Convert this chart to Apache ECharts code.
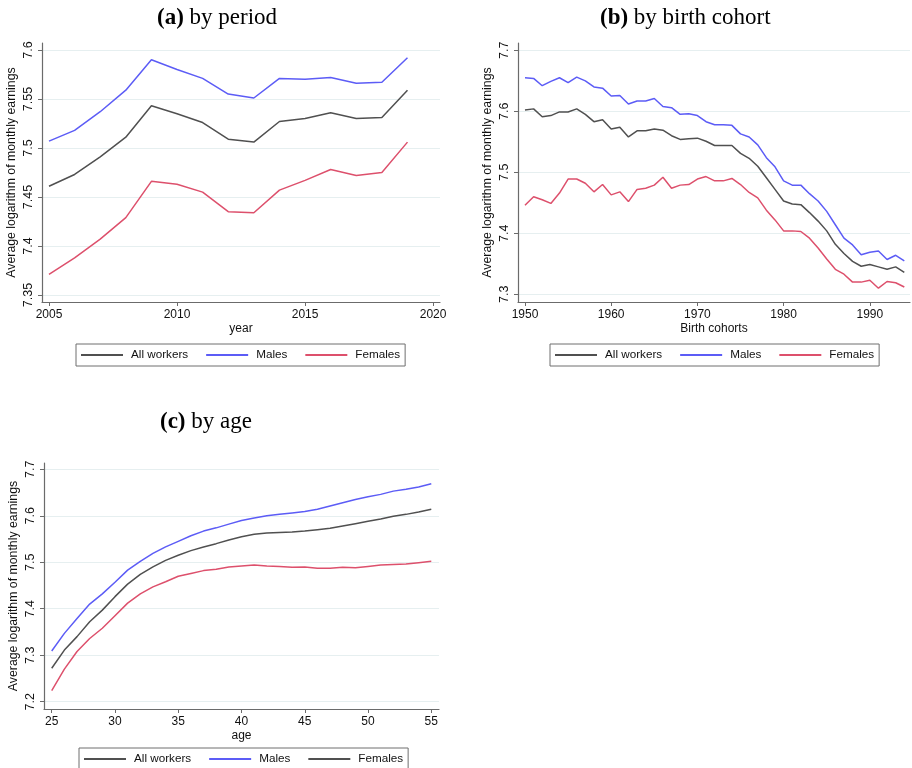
<!DOCTYPE html>
<html>
<head>
<meta charset="utf-8">
<script src="https://cdn.jsdelivr.net/npm/echarts@6.0.0/dist/echarts.min.js"></script>
<style>
    html, body { margin: 0; padding: 0; background: #fff; }
    #earnings { width: 912px; height: 768px; }
</style>
</head>
<body>
<div id="earnings"></div>
<script>
// (a) by period
const periodYears = [2005, 2006, 2007, 2008, 2009, 2010, 2011, 2012, 2013, 2014, 2015, 2016, 2017, 2018, 2019];
const periodAll = [7.461, 7.473, 7.491, 7.511, 7.543, 7.535, 7.526, 7.509, 7.506, 7.527, 7.530, 7.536, 7.530, 7.531, 7.559];
const periodMales = [7.507, 7.518, 7.537, 7.559, 7.590, 7.580, 7.571, 7.555, 7.551, 7.571, 7.570, 7.572, 7.566, 7.567, 7.592];
const periodFemales = [7.371, 7.388, 7.407, 7.429, 7.466, 7.463, 7.455, 7.435, 7.434, 7.457, 7.467, 7.478, 7.472, 7.475, 7.506];

// (b) by birth cohort
const cohortYears = [1950, 1951, 1952, 1953, 1954, 1955, 1956, 1957, 1958, 1959,
    1960, 1961, 1962, 1963, 1964, 1965, 1966, 1967, 1968, 1969,
    1970, 1971, 1972, 1973, 1974, 1975, 1976, 1977, 1978, 1979,
    1980, 1981, 1982, 1983, 1984, 1985, 1986, 1987, 1988, 1989,
    1990, 1991, 1992, 1993, 1994];
const cohortAll = [7.602, 7.604, 7.591, 7.593, 7.599, 7.599, 7.604, 7.595, 7.583, 7.586,
    7.571, 7.574, 7.558, 7.568, 7.568, 7.571, 7.569, 7.560, 7.554, 7.555,
    7.556, 7.551, 7.544, 7.544, 7.544, 7.531, 7.523, 7.510, 7.491, 7.472,
    7.453, 7.448, 7.447, 7.434, 7.420, 7.404, 7.382, 7.367, 7.354, 7.346,
    7.349, 7.345, 7.341, 7.345, 7.336];
const cohortMales = [7.655, 7.654, 7.642, 7.649, 7.655, 7.647, 7.656, 7.650, 7.640, 7.638,
    7.625, 7.626, 7.612, 7.617, 7.617, 7.621, 7.608, 7.606, 7.595, 7.596,
    7.593, 7.583, 7.578, 7.578, 7.577, 7.563, 7.558, 7.545, 7.524, 7.509,
    7.486, 7.479, 7.479, 7.465, 7.453, 7.436, 7.414, 7.392, 7.381, 7.365,
    7.369, 7.371, 7.357, 7.364, 7.355];
const cohortFemales = [7.446, 7.460, 7.455, 7.449, 7.466, 7.489, 7.489, 7.482, 7.468, 7.480,
    7.463, 7.468, 7.452, 7.472, 7.474, 7.479, 7.492, 7.474, 7.479, 7.480,
    7.489, 7.493, 7.486, 7.486, 7.490, 7.480, 7.467, 7.458, 7.438, 7.422,
    7.404, 7.404, 7.403, 7.392, 7.376, 7.358, 7.341, 7.333, 7.320, 7.320,
    7.323, 7.310, 7.321, 7.319, 7.312];

// (c) by age
const ages = [25, 26, 27, 28, 29, 30, 31, 32, 33, 34, 35, 36, 37, 38, 39, 40,
    41, 42, 43, 44, 45, 46, 47, 48, 49, 50, 51, 52, 53, 54, 55];
const ageAll = [7.272, 7.311, 7.340, 7.372, 7.397, 7.426, 7.453, 7.474, 7.490, 7.504, 7.515,
    7.525, 7.533, 7.540, 7.548, 7.555, 7.560, 7.563, 7.564, 7.565, 7.567,
    7.570, 7.573, 7.578, 7.583, 7.588, 7.593, 7.599, 7.603, 7.608, 7.614];
const ageMales = [7.309, 7.347, 7.379, 7.410, 7.432, 7.457, 7.483, 7.502, 7.519, 7.533, 7.545,
    7.557, 7.567, 7.574, 7.582, 7.590, 7.595, 7.600, 7.603, 7.606, 7.609,
    7.614, 7.621, 7.628, 7.635, 7.641, 7.646, 7.653, 7.657, 7.662, 7.669];
const ageFemales = [7.224, 7.270, 7.308, 7.336, 7.358, 7.385, 7.412, 7.432, 7.447, 7.458, 7.470,
    7.476, 7.482, 7.485, 7.490, 7.492, 7.494, 7.492, 7.491, 7.489, 7.490,
    7.487, 7.487, 7.489, 7.488, 7.491, 7.494, 7.495, 7.496, 7.499, 7.502];

// tick labels
const periodXTicks = [2005, 2010, 2015, 2020];
const periodYTicks = [7.35, 7.4, 7.45, 7.5, 7.55, 7.6];
const cohortXTicks = [1950, 1960, 1970, 1980, 1990];
const cohortYTicks = [7.3, 7.4, 7.5, 7.6, 7.7];
const ageXTicks = [25, 30, 35, 40, 45, 50, 55];
const ageYTicks = [7.2, 7.3, 7.4, 7.5, 7.6, 7.7];

const legendNames = ['All workers', 'Males', 'Females'];
const yName = 'Average logarithm of monthly earnings';

const sans = 'Liberation Sans, Arial, sans-serif';
const serif = 'Liberation Serif, Times New Roman, serif';
const axisColor = '#6b6b6b';
const gridColor = '#e6eff0';
const grayLine = '#505050';
const blueLine = '#5c5cf6';
const redLine = '#dd506c';

function xAxisFor(grid, min, max, ticks, name) {
    return {
        type: 'value', gridIndex: grid, min: min, max: max,
        name: name, nameLocation: 'middle', nameGap: 21,
        nameTextStyle: { color: '#111', fontSize: 12, fontFamily: sans },
        axisLine: { onZero: false, lineStyle: { color: axisColor, width: 1.2 } },
        axisTick: { show: true, length: 4, customValues: ticks, lineStyle: { color: axisColor } },
        axisLabel: {
            customValues: ticks, margin: 7, color: '#111', fontSize: 12, fontFamily: sans,
            formatter: v => String(v)
        },
        splitLine: { show: false }
    };
}

function yAxisFor(grid, min, max, ticks) {
    return {
        type: 'value', gridIndex: grid, min: min, max: max,
        name: yName, nameLocation: 'middle', nameGap: 24,
        nameTextStyle: { color: '#111', fontSize: 12.3, fontFamily: sans },
        axisLine: { show: true, onZero: false, lineStyle: { color: axisColor, width: 1.2 } },
        axisTick: { show: true, length: 4, customValues: ticks, lineStyle: { color: axisColor } },
        axisLabel: {
            customValues: ticks, rotate: 90, margin: 7, color: '#111', fontSize: 12.5, fontFamily: sans,
            formatter: v => String(v)
        },
        splitLine: { show: true, lineStyle: { color: gridColor, width: 1 } }
    };
}

function lineSeries(name, grid, xs, ys, color) {
    return {
        name: name, type: 'line', xAxisIndex: grid, yAxisIndex: grid,
        data: xs.map((x, i) => [x, ys[i]]),
        symbol: 'none',
        lineStyle: { color: color, width: 1.5 },
        itemStyle: { color: color }
    };
}

function legendFor(left, top, data) {
    return {
        left: left, top: top, orient: 'horizontal',
        data: data,
        icon: 'rect',
        itemWidth: 42, itemHeight: 2, itemGap: 18,
        padding: [5, 5],
        borderColor: '#6f6f6f', borderWidth: 1, borderRadius: 0,
        textStyle: { color: '#111', fontSize: 11.7, fontFamily: sans, padding: [0, 0, 0, 3] }
    };
}

function titleFor(left, top, tag, rest) {
    return {
        left: left, top: top, padding: 0,
        text: '{b|' + tag + '} ' + rest,
        textStyle: {
            fontFamily: serif, fontSize: 23, fontWeight: 'normal', color: '#000', lineHeight: 26,
            rich: { b: { fontFamily: serif, fontSize: 23, fontWeight: 'bold', color: '#000', lineHeight: 26 } }
        }
    };
}

let myChart = echarts.init(document.getElementById('earnings'), null, { renderer: 'canvas' });

myChart.setOption({
    animation: false,
    backgroundColor: '#fff',
    title: [
        titleFor(157, 5, '(a)', 'by period'),
        titleFor(600, 5, '(b)', 'by birth cohort'),
        titleFor(160, 409, '(c)', 'by age')
    ],
    legend: [
        legendFor(76, 344, legendNames),
        legendFor(550, 344, legendNames),
        legendFor(79, 748, [
            'All workers', 'Males',
            // the original figure draws this key in gray
            { name: 'Females', itemStyle: { color: grayLine } }
        ])
    ],
    grid: [
        { left: 42, right: 472, top: 43, bottom: 466 },
        { left: 518, right: 2, top: 43, bottom: 466 },
        { left: 44, right: 473, top: 463, bottom: 59 }
    ],
    xAxis: [
        xAxisFor(0, 2004.727, 2020.27, periodXTicks, 'year'),
        xAxisFor(1, 1949.19, 1994.66, cohortXTicks, 'Birth cohorts'),
        xAxisFor(2, 24.39, 55.61, ageXTicks, 'age')
    ],
    yAxis: [
        yAxisFor(0, 7.3429, 7.6071, periodYTicks),
        yAxisFor(1, 7.2874, 7.712, cohortYTicks),
        yAxisFor(2, 7.1843, 7.7135, ageYTicks)
    ],
    series: [
        lineSeries('All workers', 0, periodYears, periodAll, grayLine),
        lineSeries('Males', 0, periodYears, periodMales, blueLine),
        lineSeries('Females', 0, periodYears, periodFemales, redLine),
        lineSeries('All workers', 1, cohortYears, cohortAll, grayLine),
        lineSeries('Males', 1, cohortYears, cohortMales, blueLine),
        lineSeries('Females', 1, cohortYears, cohortFemales, redLine),
        lineSeries('All workers', 2, ages, ageAll, grayLine),
        lineSeries('Males', 2, ages, ageMales, blueLine),
        lineSeries('Females', 2, ages, ageFemales, redLine)
    ]
});
</script>
</body>
</html>
